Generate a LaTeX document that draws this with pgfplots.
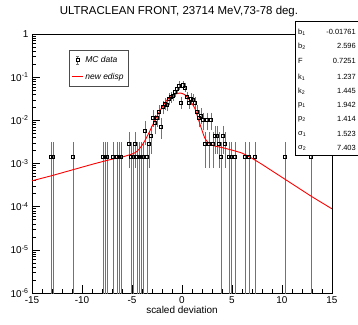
\documentclass[border=0pt]{standalone}
\usepackage{fontspec}
\setmainfont{Liberation Sans}
\usepackage{pgfplots}
\pgfplotsset{compat=1.18}
\usepackage{pgfplotstable}

% MC data: x, value, error plus, error minus
\pgfplotstableread{
x y ep em
-13.1 0.00145 0.00145 0.001449
-12.9 0.00145 0.00145 0.001449
-10.9 0.00145 0.00145 0.001449
-7.9 0.00145 0.00145 0.001449
-7.7 0.00145 0.00145 0.001449
-7.5 0.00145 0.00145 0.001449
-6.9 0.00145 0.00145 0.001449
-6.5 0.00145 0.00145 0.001449
-6.3 0.00145 0.00145 0.001449
-6.1 0.00145 0.00145 0.001449
-5.3 0.0029 0.00205 0.00205
-5.1 0.00145 0.00145 0.001449
-4.9 0.00145 0.00145 0.001449
-4.7 0.0029 0.00205 0.00205
-4.5 0.00145 0.00145 0.001449
-4.3 0.00145 0.00145 0.001449
-4.1 0.00145 0.00145 0.001449
-3.9 0.00145 0.00145 0.001449
-3.7 0.0058 0.0029 0.0029
-3.5 0.00145 0.00145 0.001449
-3.3 0.0029 0.00205 0.00205
-3.1 0.00435 0.00251 0.00251
-2.9 0.0116 0.0041 0.0041
-2.7 0.0087 0.00355 0.00355
-2.5 0.0116 0.0041 0.0041
-2.3 0.01595 0.00481 0.00481
-2.1 0.00725 0.00324 0.00324
-1.9 0.0203 0.00543 0.00543
-1.7 0.02465 0.00598 0.00598
-1.5 0.0232 0.0058 0.0058
-1.3 0.0319 0.0068 0.0068
-1.1 0.0348 0.0071 0.0071
-0.9 0.0377 0.00739 0.00739
-0.7 0.0464 0.0082 0.0082
-0.5 0.0551 0.00894 0.00894
-0.3 0.0638 0.00962 0.00962
-0.1 0.0261 0.00615 0.00615
0.1 0.06525 0.00973 0.00973
0.3 0.058 0.00917 0.00917
0.5 0.0348 0.0071 0.0071
0.7 0.0261 0.00615 0.00615
0.9 0.0319 0.0068 0.0068
1.1 0.03045 0.00664 0.00664
1.3 0.0261 0.00615 0.00615
1.5 0.01595 0.00481 0.00481
1.7 0.0116 0.0041 0.0041
1.9 0.01305 0.00435 0.00435
2.1 0.01015 0.00384 0.00384
2.3 0.0029 0.00205 0.00205
2.5 0.01015 0.00384 0.00384
2.7 0.0029 0.00205 0.00205
2.9 0.01015 0.00384 0.00384
3.1 0.0029 0.00205 0.00205
3.3 0.00435 0.00251 0.00251
3.5 0.00435 0.00251 0.00251
3.7 0.0029 0.00205 0.00205
3.9 0.00145 0.00145 0.001449
4.1 0.00435 0.00251 0.00251
4.3 0.0029 0.00205 0.00205
4.7 0.00145 0.00145 0.001449
4.9 0.00145 0.00145 0.001449
5.3 0.00145 0.00145 0.001449
6.3 0.00145 0.00145 0.001449
6.7 0.00145 0.00145 0.001449
7.3 0.00145 0.00145 0.001449
10.3 0.00145 0.00145 0.001449
12.9 0.00145 0.00145 0.001449
}\mcdata

% fitted curve "new edisp"
\pgfplotstableread{
x y
-15 3.98e-4
-13 5.25e-4
-11 7.08e-4
-9 9.55e-4
-8 1.10e-3
-7 1.26e-3
-6 1.41e-3
-5 1.66e-3
-4.5 1.91e-3
-4.0 2.63e-3
-3.5 4.17e-3
-3.0 7.24e-3
-2.5 1.26e-2
-2.0 2.00e-2
-1.5 2.95e-2
-1.0 3.72e-2
-0.5 4.17e-2
-0.1 4.27e-2
0.3 3.89e-2
0.7 3.09e-2
1.0 2.45e-2
1.3 1.86e-2
1.6 1.12e-2
2.0 5.89e-3
2.3 3.80e-3
2.7 2.95e-3
3.2 2.57e-3
4 2.34e-3
5 2.04e-3
6 1.74e-3
7 1.32e-3
8 9.55e-4
9 6.76e-4
10 4.79e-4
11 3.39e-4
12 2.40e-4
13 1.70e-4
14 1.23e-4
15 8.9e-5
}\fitcurve

\begin{document}
\begin{tikzpicture}
\useasboundingbox (-32bp,-32bp) rectangle (326bp,293bp);
\begin{axis}[
  at={(0bp,0bp)}, anchor=south west,
  scale only axis, width=300bp, height=259bp,
  xmin=-15, xmax=15,
  ymode=log, log basis y=10, ymin=1e-6, ymax=1,
  xtick={-15,-10,...,15}, minor x tick num=4,
  ytick={1e-6,1e-5,1e-4,1e-3,1e-2,1e-1,1},
  minor ytick={2e-6,3e-6,4e-6,5e-6,6e-6,7e-6,8e-6,9e-6,
               2e-5,3e-5,4e-5,5e-5,6e-5,7e-5,8e-5,9e-5,
               2e-4,3e-4,4e-4,5e-4,6e-4,7e-4,8e-4,9e-4,
               2e-3,3e-3,4e-3,5e-3,6e-3,7e-3,8e-3,9e-3,
               2e-2,3e-2,4e-2,5e-2,6e-2,7e-2,8e-2,9e-2,
               0.2,0.3,0.4,0.5,0.6,0.7,0.8,0.9},
  yticklabels={10\textsuperscript{-6},10\textsuperscript{-5},10\textsuperscript{-4},10\textsuperscript{-3},10\textsuperscript{-2},10\textsuperscript{-1},1},
  tick pos=left, tick align=inside,
  major tick length=8bp, minor tick length=4bp,
  every tick/.style={black, line width=0.4pt},
  axis line style={line width=0.5pt},
  tick label style={font=\fontsize{10}{12}\selectfont},
  /pgf/number format/assume math mode=true,
  xlabel={scaled deviation},
  xlabel style={font=\fontsize{10}{12}\selectfont, at={(axis description cs:0.5,0)}, anchor=north, inner sep=0pt, yshift=-13bp},
  legend style={at={(0.1233,0.938)}, anchor=north west, draw=black!70, line width=0.5pt,
    font=\fontsize{8.5}{10}\selectfont\itshape, row sep=5bp, inner xsep=2.5bp, inner ysep=4bp,
    /tikz/every even column/.style={column sep=1.5bp}},
  legend cell align=left,
]
\addplot[only marks, mark=square, mark size=1.6bp,
  mark options={black, fill=white, line width=0.5pt},
  error bars/.cd, y dir=both, y explicit,
  error bar style={black!55, line width=0.5pt},
  error mark options={black!55, mark size=1.5bp, line width=0.5pt},
  /pgfplots/legend image code/.code={
    \draw[black!55, line width=0.5pt] (0.19cm,-0.13cm) -- (0.19cm,0.13cm);
    \draw[black!55, line width=0.5pt] (0.14cm,0.13cm) -- (0.24cm,0.13cm);
    \draw[black!55, line width=0.5pt] (0.14cm,-0.13cm) -- (0.24cm,-0.13cm);
    \draw[black, fill=white, line width=0.5pt] plot[mark=square*, mark size=1.6bp, mark options={fill=white, draw=black}] coordinates {(0.19cm,0cm)};
  }]
  table[x=x, y=y, y error plus=ep, y error minus=em] {\mcdata};
\addlegendentry{MC data}
\addplot[red, line width=0.9pt, smooth, tension=0.4,
  legend image code/.code={\draw[red, line width=0.9pt] (0cm,0cm) -- (0.38cm,0cm);}]
  table[x=x, y=y] {\fitcurve};
\addlegendentry{new edisp}
\end{axis}
% title
\node[font=\fontsize{11.5}{13}\selectfont] at (147bp,281bp) {ULTRACLEAN FRONT, 23714 MeV,73-78 deg.};
% statistics box
\draw[fill=white, line width=0.5pt] (263bp,138bp) rectangle (340bp,272bp);
\foreach \lab/\val/\yy in {b\textsubscript{1}/-0.01761/261, b\textsubscript{2}/2.596/247, F/0.7251/232, k\textsubscript{1}/1.237/216, k\textsubscript{2}/1.445/202, p\textsubscript{1}/1.942/188, p\textsubscript{2}/1.414/174, σ\textsubscript{1}/1.523/159, σ\textsubscript{2}/7.403/145}{
  \node[anchor=west, inner sep=0pt, font=\fontsize{7.5}{9}\selectfont] at (266bp,\yy bp) {\lab};
  \node[anchor=east, inner sep=0pt, font=\fontsize{7.5}{9}\selectfont] at (324bp,\yy bp) {\val};
}
\end{tikzpicture}
\end{document}
